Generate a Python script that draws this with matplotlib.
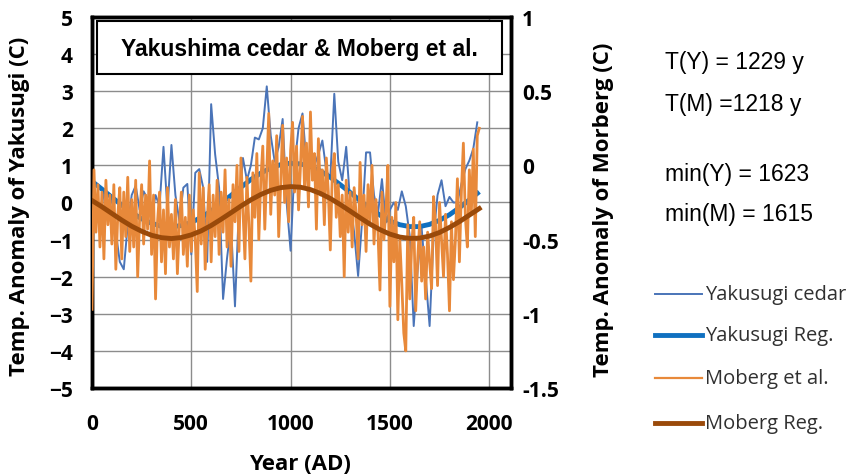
import matplotlib
matplotlib.use("Agg")
import matplotlib.pyplot as plt
from matplotlib.lines import Line2D
from matplotlib.patches import Rectangle

# Yakusugi cedar, every 20 years (left axis, C)
yaku_years = list(range(0, 1960, 20))
yaku_temp = [
    -0.3, 0.2, -0.5, 0.3, -0.2, 0.1, -0.8, -1.6, -1.8, -0.6,
    0.2, 0.45, -0.2, 0.3, 0.1, -0.4, 0.2, -0.1, 1.5, -0.2,
    1.55, 0.2, -0.5, 0.4, 0.5, -1.4, 0.8, 0.9, 0.4, -1.6,
    2.65, 1.3, 0.4, -2.6, -1.5, -0.6, -2.8, -0.1, 1.2, 0.6,
    1.0, 1.75, 1.7, 2.0, 3.13, 1.8, 1.1, 1.5, 2.25, 0.0,
    -1.3, 1.0, 2.0, 2.4, 1.05, 1.1, 1.0, 1.3, 1.67, 0.85,
    0.65, 2.93, 1.1, 0.6, 1.5, 0.0, -0.8, -1.98, -0.5, 1.35,
    1.35, 0.2, -0.3, 0.63, -0.54, -0.2, 0.0, -0.2, 0.3, -0.1,
    -0.9, -3.33, -1.8, -0.7, -2.0, -3.33, -0.9, 0.2, 0.6, -0.1,
    0.15, 0.0, 0.0, 0.5, 0.9, 1.13, 1.45, 2.16,
]

# Moberg et al., every 10 years (right axis, C)
mob_years = list(range(0, 1960, 10))
mob_temp = [
    -0.97, -0.03, -0.45, -0.13, -0.55, -0.18, -0.63, -0.10, -0.40, -0.20,
    -0.53, -0.13, -0.70, -0.33, -0.15, -0.63, -0.18, -0.48, -0.08, -0.58,
    -0.23, -0.55, -0.10, -0.75, -0.35, -0.13, -0.53, -0.20, -0.43, 0.03,
    -0.60, -0.20, -0.90, -0.38, -0.18, -0.65, -0.30, -0.73, -0.15, -0.55,
    -0.33, -0.63, -0.23, -0.73, -0.40, -0.18, -0.60, -0.35, -0.68, -0.20,
    -0.58, -0.30, -0.50, -0.85, -0.05, -0.53, -0.15, -0.70, -0.38, -0.13,
    -0.65, -0.20, -0.48, -0.10, -0.60, -0.18, -0.45, -0.03, -0.55, -0.23,
    -0.68, -0.13, -0.38, 0.00, -0.58, 0.05, -0.30, -0.63, -0.08, -0.40,
    -0.78, -0.05, -0.35, 0.08, -0.50, -0.10, 0.13, -0.43, -0.03, 0.35,
    -0.33, 0.03, -0.20, 0.20, -0.48, -0.13, 0.27, -0.25, 0.05, -0.38,
    0.10, 0.29, -0.18, 0.13, -0.30, 0.00, 0.33, -0.15, 0.15, -0.28,
    0.36, -0.10, 0.08, -0.43, 0.18, -0.20, -0.03, -0.40, 0.05, -0.18,
    -0.57, -0.05, 0.08, -0.35, -0.13, -0.48, -0.20, -0.75, -0.10, -0.45,
    -0.18, -0.55, -0.15, -0.33, -0.63, 0.02, -0.40, -0.20, -0.58, -0.13,
    -0.38, 0.00, -0.53, -0.23, -0.45, -0.84, -0.18, -0.50, -0.30, 0.00,
    -0.95, -0.35, -0.65, -0.25, -1.04, -0.50, -0.80, -1.13, -1.25, -0.40,
    -0.90, -0.53, -0.35, -0.98, -0.63, -0.38, -0.78, -0.55, -0.90, -0.45,
    -0.65, -0.83, -0.21, -0.40, -0.81, -0.25, -0.50, -0.75, -0.33, -0.60,
    -0.98, -0.38, -0.77, -0.50, -0.09, -0.65, -0.18, 0.15, -0.35, -0.55,
    -0.03, -0.33, 0.11, -0.48, 0.20, 0.25,
]

# regression curves, every 50 years
reg_years = list(range(0, 2000, 50))
yaku_reg = [
    0.57, 0.36, 0.14, -0.07, -0.27, -0.44, -0.56, -0.64, -0.66, -0.62,
    -0.54, -0.40, -0.23, -0.02, 0.19, 0.41, 0.62, 0.79, 0.93, 1.02,
    1.06, 1.04, 0.97, 0.85, 0.68, 0.48, 0.27, 0.05, -0.16, -0.34,
    -0.50, -0.60, -0.65, -0.65, -0.59, -0.48, -0.33, -0.14, 0.07, 0.29,
]
mob_reg = [
    -0.237, -0.279, -0.324, -0.369, -0.410, -0.444, -0.471, -0.487, -0.493, -0.486,
    -0.468, -0.441, -0.405, -0.363, -0.319, -0.274, -0.232, -0.196, -0.168, -0.150,
    -0.143, -0.147, -0.163, -0.189, -0.223, -0.264, -0.308, -0.353, -0.396, -0.433,
    -0.463, -0.483, -0.492, -0.490, -0.476, -0.452, -0.418, -0.379, -0.335, -0.291,
]

c_yaku = "#4a74b8"
c_yreg = "#1070c0"
c_mob = "#e8893a"
c_mreg = "#9a4a0a"

fig = plt.figure(figsize=(8.55, 4.77), dpi=100)
ax = fig.add_axes([0.1076, 0.1845, 0.4901, 0.7778])
ax2 = ax.twinx()

ax.plot(yaku_years, yaku_temp, color=c_yaku, lw=1.4, zorder=3)
ax.plot(reg_years, yaku_reg, color=c_yreg, lw=3.5, zorder=4, solid_capstyle="butt")
ax2.plot(mob_years, mob_temp, color=c_mob, lw=2.0, zorder=3)
ax2.plot(reg_years, mob_reg, color=c_mreg, lw=3.5, zorder=4)

ax.set_xlim(0, 2110)
ax.set_ylim(-5, 5)
ax2.set_ylim(-1.5, 1)
ax.set_xticks([0, 500, 1000, 1500, 2000])
ax.set_yticks(range(-5, 6))
ax2.set_yticks([-1.5, -1, -0.5, 0, 0.5, 1])
ax2.set_yticklabels(["-1.5", "-1", "-0.5", "0", "0.5", "1"])
ax.grid(True, color="#8c8c8c", lw=1)
ax.set_axisbelow(True)

for lab in ax.get_xticklabels() + ax.get_yticklabels() + ax2.get_yticklabels():
    lab.set_fontfamily("Open Sans")
    lab.set_fontweight("bold")
    lab.set_fontsize(15)
ax.tick_params(axis="both", length=0)
ax.tick_params(axis="y", pad=14)
ax.tick_params(axis="x", pad=18)
ax2.tick_params(axis="y", length=0, pad=8)

for a in (ax, ax2):
    for s in a.spines.values():
        s.set_linewidth(2.5)
        s.set_color("black")

# title box
ax2.add_patch(Rectangle((0.012, 0.846), 0.967, 0.143, transform=ax2.transAxes,
                        facecolor="white", edgecolor="black", lw=1.5, zorder=10))
ax2.text(0.494, 0.916, "Yakushima cedar & Moberg et al.", transform=ax2.transAxes,
         ha="center", va="center", fontsize=16.5, fontweight="bold",
         family="Liberation Sans", zorder=11)

labfont = dict(family="Open Sans", weight="bold", size=16)
fig.text(20 / 855, 1 - 206 / 477, "Temp. Anomaly of Yakusugi (C)", rotation=90,
         ha="center", va="center", **labfont)
fig.text(603 / 855, 1 - 210 / 477, "Temp. Anomaly of Morberg (C)", rotation=90,
         ha="center", va="center", **labfont)
fig.text(300 / 855, 1 - 465 / 477, "Year (AD)", ha="center", va="center",
         family="Open Sans", weight="bold", size=16)

notes = ["T(Y) = 1229 y", "T(M) =1218 y", "min(Y) = 1623", "min(M) = 1615"]
note_y = [62, 104, 175, 215]
for t, yy in zip(notes, note_y):
    fig.text(665 / 855, 1 - yy / 477, t, ha="left", va="center",
             family="Liberation Sans", size=16.5)

# legend
leg = [("Yakusugi cedar", c_yaku, 1.4), ("Yakusugi Reg.", c_yreg, 3.5),
       ("Moberg et al.", c_mob, 1.6), ("Moberg Reg.", c_mreg, 3.5)]
leg_y = [295, 336, 379, 424]
for (name, col, lw), yy in zip(leg, leg_y):
    fy = 1 - yy / 477
    fig.add_artist(Line2D([655 / 855, 702 / 855], [fy, fy], transform=fig.transFigure,
                          color=col, lw=lw))
    fig.text(705 / 855, fy, name, ha="left", va="center", family="Open Sans",
             size=14.5, color="#303030")

fig.savefig("out.png", dpi=100)
